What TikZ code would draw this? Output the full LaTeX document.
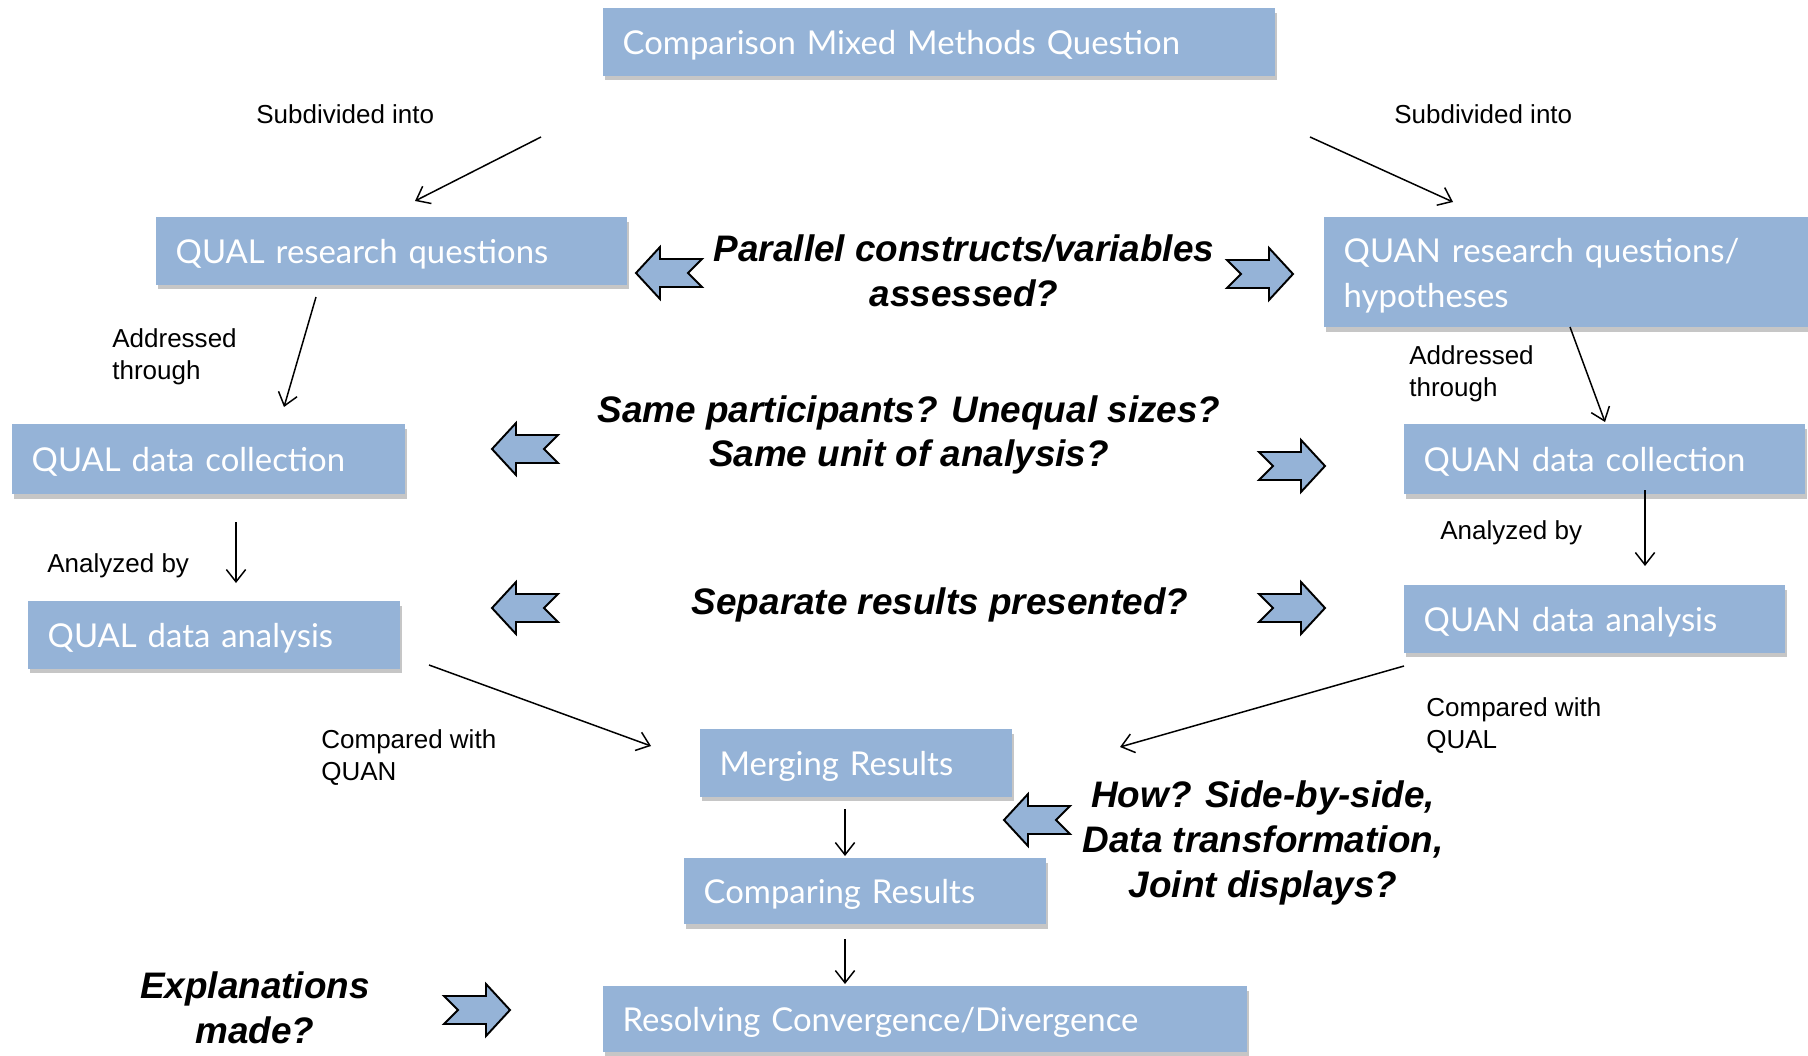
\documentclass[tikz,border=0pt]{standalone}
\usepackage{fontspec}
\setmainfont{Liberation Sans}
\newfontfamily\boxfamily{Lato}
\usepackage{tikz}
\usetikzlibrary{
  calc,
  positioning,
  arrows.meta,
  shadows
}
\definecolor{boxblue}{RGB}{149,179,215}

\begin{document}
\begin{tikzpicture}[x=0.2mm,y=-0.2mm,>={Straight Barb[length=7pt,width=11pt]}]
  \tikzset{
    box/.style={
      fill=boxblue, text=white, anchor=north west, align=left,
      inner xsep=11pt, minimum height=38.5pt, text depth=0pt,
      font=\boxfamily\fontsize{18.7}{25.6}\selectfont,
      drop shadow={shadow xshift=1pt,shadow yshift=-2.5pt,opacity=0.45}
    },
    conn/.style={->, line width=0.85pt},
    lbl/.style={anchor=west, align=left, inner sep=0pt,
      font=\fontsize{14.8}{18.2}\selectfont},
    ask/.style={align=center, inner sep=0pt,
      font=\bfseries\itshape\fontsize{21}{25.4}\selectfont},
    blockarrow/.pic={
      \draw[fill=boxblue, line width=1.1pt, line join=miter]
        (-33,-14) -- (9,-14) -- (9,-26) -- (33,0) -- (9,26) -- (9,14)
        -- (-33,14) -- (-19,0) -- cycle;
    },
    % every node/.style={draw=red}
  }
\useasboundingbox (0,0) rectangle (1808,1055);

% boxes
\node[box, text width=360.4pt] (mmq) at (603,8) {Comparison Mixed Methods Question};
\node[box, text width=246pt] (qualq) at (156,217) {QUAL research questions};
\node[box, text width=274pt, minimum height=62.6pt, text depth=25pt] (quanq) at (1324,217)
  {QUAN research questions/\\hypotheses};
\node[box, text width=201.6pt, minimum height=39.8pt] (qualc) at (12,424) {QUAL data collection};
\node[box, text width=206.2pt, minimum height=39.8pt] (quanc) at (1404,424) {QUAN data collection};
\node[box, text width=189.7pt] (quala) at (28,601) {QUAL data analysis};
\node[box, text width=194.8pt] (quana) at (1404,585) {QUAN data analysis};
\node[box, text width=155.5pt] (merge) at (700,729) {Merging Results};
\node[box, text width=184pt, minimum height=37.6pt] (compare) at (684,858) {Comparing Results};
\node[box, text width=344.5pt, minimum height=37.6pt] (resolve) at (603,986) {Resolving Convergence/Divergence};

% connector ends
\coordinate (s1) at (541,137);  \coordinate (e1) at (415,201);
\coordinate (s2) at (1310,137); \coordinate (e2) at (1453,202);
\coordinate (s3) at (316,297);  \coordinate (e3) at (284,407);
\coordinate (s4) at (1570,327); \coordinate (e4) at (1605,422);
\coordinate (s5) at (236,522);  \coordinate (e5) at (236,583);
\coordinate (s6) at (1645,490); \coordinate (e6) at (1645,566);
\coordinate (s7) at (429,665);  \coordinate (e7) at (651,746);
\coordinate (s8) at (1404,666); \coordinate (e8) at (1120,747);
\coordinate (s9) at (845,809);  \coordinate (e9) at (845,856);
\coordinate (s10) at (845,939); \coordinate (e10) at (845,984);

\draw[conn] (s1)--(e1);
\draw[conn] (s2)--(e2);
\draw[conn] (s3)--(e3);
\draw[conn] (s4)--(e4);
\draw[conn] (s5)--(e5);
\draw[conn] (s6)--(e6);
\draw[conn] (s7)--(e7);
\draw[conn] (s8)--(e8);
\draw[conn] (s9)--(e9);
\draw[conn] (s10)--(e10);

% small labels
\node[lbl] (subl) at (256,114) {Subdivided into};
\node[lbl] (subr) at (1394,114) {Subdivided into};
\node[lbl] (addl) at (112,357) {Addressed\\through};
\node[lbl] (addr) at (1409,374) {Addressed\\through};
\node[lbl] (anal) at (47,566) {Analyzed by};
\node[lbl] (anar) at (1440,533) {Analyzed by};
\node[lbl] (cmpl) at (321,758) {Compared with\\QUAN};
\node[lbl] (cmpr) at (1426,726) {Compared with\\QUAL};

% questions
\node[ask] (par) at (964,271) {Parallel constructs/variables\\assessed?};
\node[ask] (same) at (909,435) {Same participants? Unequal sizes?\\Same unit of analysis?};
\node[ask] (sep) at (940,605) {Separate results presented?};
\node[ask] (how) at (1263,843) {How? Side-by-side,\\Data transformation,\\Joint displays?};
\node[ask] (expl) at (255,1008) {Explanations\\made?};

% block arrows
\pic[xscale=-1] (b1) at (669,273) {blockarrow};
\pic (b2) at (1260,274) {blockarrow};
\pic[xscale=-1] (b3) at (525,449) {blockarrow};
\pic (b4) at (1292,466) {blockarrow};
\pic[xscale=-1] (b5) at (525,608) {blockarrow};
\pic (b6) at (1292,608) {blockarrow};
\pic[xscale=-1] (b7) at (1037,820) {blockarrow};
\pic (b8) at (477,1010) {blockarrow};

\end{tikzpicture}
\end{document}
